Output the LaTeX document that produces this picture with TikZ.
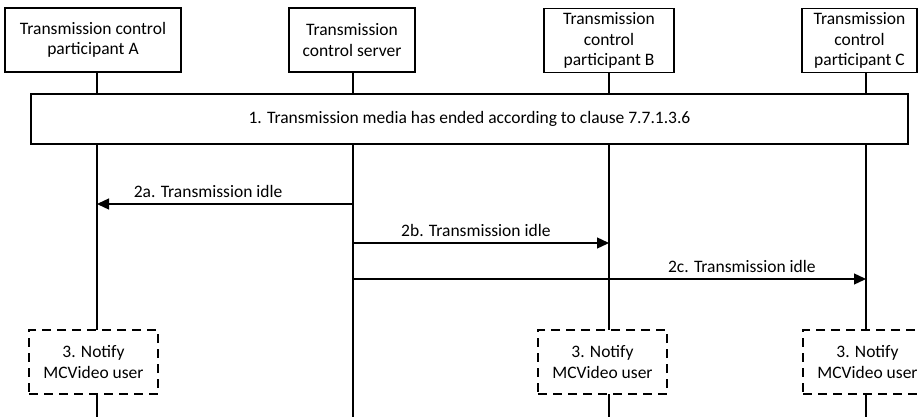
\documentclass[tikz,border=0pt]{standalone}
\usepackage{fontspec}
\setmainfont{Carlito}
\usetikzlibrary{arrows.meta}

\begin{document}
\begin{tikzpicture}[x=1pt, y=-1pt, line width=1.3pt,
	every node/.style={font=\fontsize{17.5}{20.5}\selectfont, align=center},
	head/.style={draw, fill=white, minimum height=64, inner sep=1pt},
	notify/.style={draw, fill=white, dash pattern=on 9pt off 6pt, minimum width=129, minimum height=64, inner sep=1pt},
	msg/.style={-{Triangle[length=12pt, width=11pt]}},
	lbl/.style={above=6pt, inner sep=0pt}]
\useasboundingbox (0,0) rectangle (920,417);

% participants
\node[head, minimum width=176] (pA) at (93,40) {Transmission control\\participant A};
\node[head, minimum width=126] (srv) at (352,40) {Transmission\\control server};
\node[head, minimum width=130] (pB) at (609,40.5) {Transmission\\control\\participant B};
\node[head, minimum width=115] (pC) at (859.5,40.5) {Transmission\\control\\participant C};

% lifelines
\coordinate (eA) at (97,417);
\coordinate (eS) at (353,417);
\coordinate (eB) at (609,417);
\coordinate (eC) at (866,417);
\foreach \p/\e in {pA/eA, srv/eS, pB/eB, pC/eC}
	\draw (\p.south -| \e) -- (\e);

% 1.
\node[draw, fill=white, minimum width=877, minimum height=50] (ended) at (469.5,119) {1. Transmission media has ended according to clause 7.7.1.3.6};

% 2a, 2b, 2c
\coordinate (m2a) at (0,204);
\coordinate (m2b) at (0,243);
\coordinate (m2c) at (0,279);
\draw[msg] (eS |- m2a) -- node[lbl, pos=0.566] {2a. Transmission idle} (eA |- m2a);
\draw[msg] (eS |- m2b) -- node[lbl, pos=0.48] {2b. Transmission idle} (eB |- m2b);
\draw[msg] (eS |- m2c) -- node[lbl, pos=0.758] {2c. Transmission idle} (eC |- m2c);

% 3.
\node[notify] (nA) at (93.5,362) {3. Notify\\MCVideo user};
\node[notify] (nB) at (602.5,362) {3. Notify\\MCVideo user};
\node[notify] (nC) at (867.5,362) {3. Notify\\MCVideo user};

\end{tikzpicture}
\end{document}
